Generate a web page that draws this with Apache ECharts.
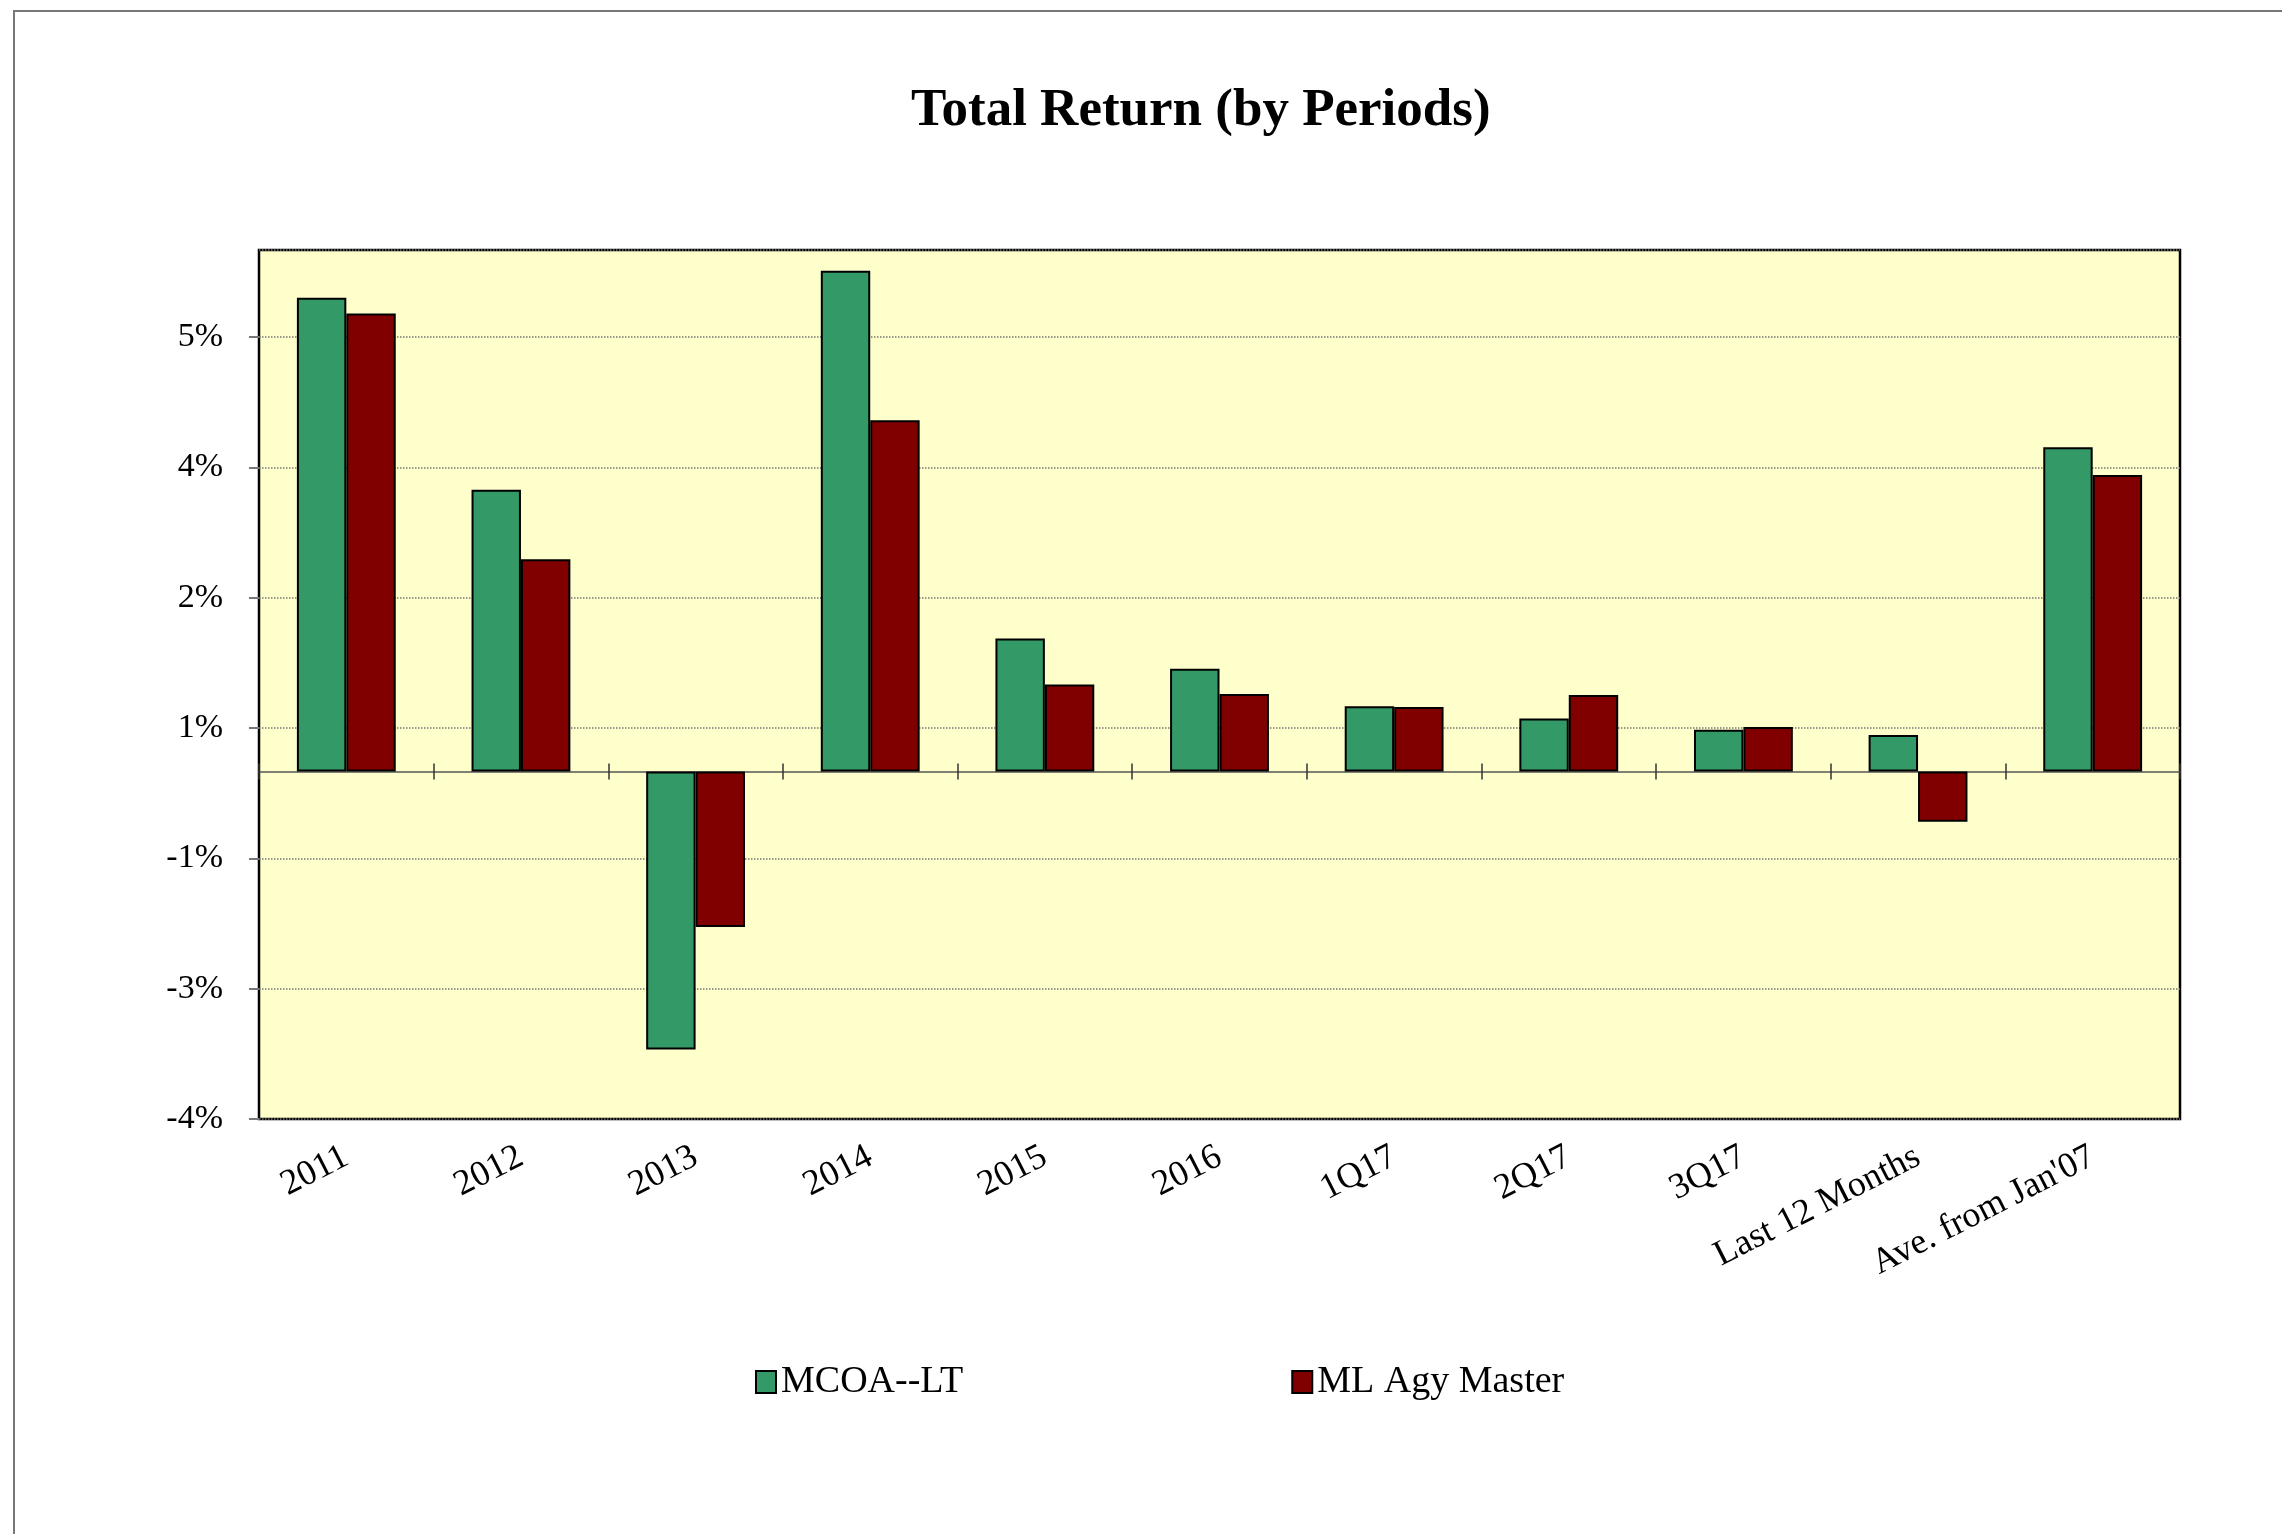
<!DOCTYPE html>
<html>
<head>
<meta charset="utf-8">
<script src="https://cdn.jsdelivr.net/npm/echarts@6/dist/echarts.min.js"></script>
<style>
  html, body { margin: 0; padding: 0; background: #fff; }
  #chart { width: 2282px; height: 1534px; }
</style>
</head>
<body>
<div id="chart"></div>
<script>
// periods on the x axis
const periods = ["2011", "2012", "2013", "2014", "2015", "2016", "1Q17", "2Q17", "3Q17", "Last 12 Months", "Ave. from Jan'07"];

// total return in %
const mcoaLT = [5.45, 3.24, -3.2, 5.76, 1.53, 1.18, 0.75, 0.61, 0.48, 0.42, 3.73];
const mlAgyMaster = [5.27, 2.44, -1.79, 4.04, 1.0, 0.89, 0.74, 0.88, 0.51, -0.58, 3.41];

// the y ticks sit at -4, -2.5, -1, 0.5, 2, 3.5, 5 but are printed rounded
const yTickLabels = ["-4%", "-3%", "-1%", "1%", "2%", "4%", "5%"];

const FONT = "'Liberation Serif', 'Times New Roman', serif";

const chart = echarts.init(document.getElementById("chart"));

// line at zero with tick marks crossing it at the category boundaries
const zeroAxis = (inside) => ({
  type: "category",
  data: periods,
  position: "bottom",
  axisLine: {
    show: inside,
    onZero: true,
    onZeroAxisIndex: 0,
    lineStyle: { color: "#555", width: 1.5 }
  },
  axisTick: {
    show: true,
    inside: inside,
    length: 8,
    lineStyle: { color: "#333", width: 1.5 }
  },
  axisLabel: { show: false },
  splitLine: { show: false }
});

const option = {
  backgroundColor: "#fff",
  animation: false,
  textStyle: { fontFamily: FONT },
  title: {
    text: "Total Return (by Periods)",
    left: 906,
    top: 80,
    textStyle: { fontFamily: FONT, fontSize: 53, fontWeight: "bold", color: "#000" }
  },
  graphic: [
    {
      type: "rect",
      shape: { x: 14, y: 11, width: 2400, height: 1700 },
      style: { fill: "none", stroke: "#777", lineWidth: 2 },
      silent: true
    }
  ],
  legend: {
    left: 755,
    top: 1363,
    padding: 0,
    itemWidth: 20,
    itemHeight: 22,
    itemGap: 328,
    icon: "rect",
    textStyle: { fontFamily: FONT, fontSize: 38, color: "#000", padding: [0, 0, 0, 0] },
    data: ["MCOA--LT", "ML Agy Master"]
  },
  grid: {
    left: 259,
    top: 250,
    right: 102,
    bottom: 415,
    show: true,
    backgroundColor: "#FFFFCC",
    borderColor: "#000",
    borderWidth: 2.5
  },
  xAxis: [
    {
      type: "category",
      data: periods,
      position: "bottom",
      axisLine: { show: false, onZero: false },
      axisTick: { show: false },
      axisLabel: {
        rotate: 27,
        margin: 36,
        interval: 0,
        fontFamily: FONT,
        fontSize: 36,
        color: "#000"
      }
    },
    zeroAxis(true),
    zeroAxis(false)
  ],
  yAxis: {
    type: "value",
    min: -4,
    max: 6,
    interval: 1.5,
    axisLine: { show: false },
    axisTick: { show: true, length: 10, lineStyle: { color: "#777", width: 2 } },
    axisLabel: {
      margin: 36,
      fontFamily: FONT,
      fontSize: 34,
      color: "#000",
      showMaxLabel: false,
      formatter: (value, index) => yTickLabels[index] || ""
    },
    splitLine: { show: true, lineStyle: { color: "#777", type: "dotted", width: 1.5 } }
  },
  series: [
    {
      name: "MCOA--LT",
      type: "bar",
      data: mcoaLT,
      barWidth: "28.3%",
      barGap: "0%",
      itemStyle: { color: "#339966", borderColor: "#000", borderWidth: 2 }
    },
    {
      name: "ML Agy Master",
      type: "bar",
      data: mlAgyMaster,
      barWidth: "28.3%",
      barGap: "0%",
      itemStyle: { color: "#800000", borderColor: "#000", borderWidth: 2 }
    }
  ]
};

chart.setOption(option);
</script>
</body>
</html>
